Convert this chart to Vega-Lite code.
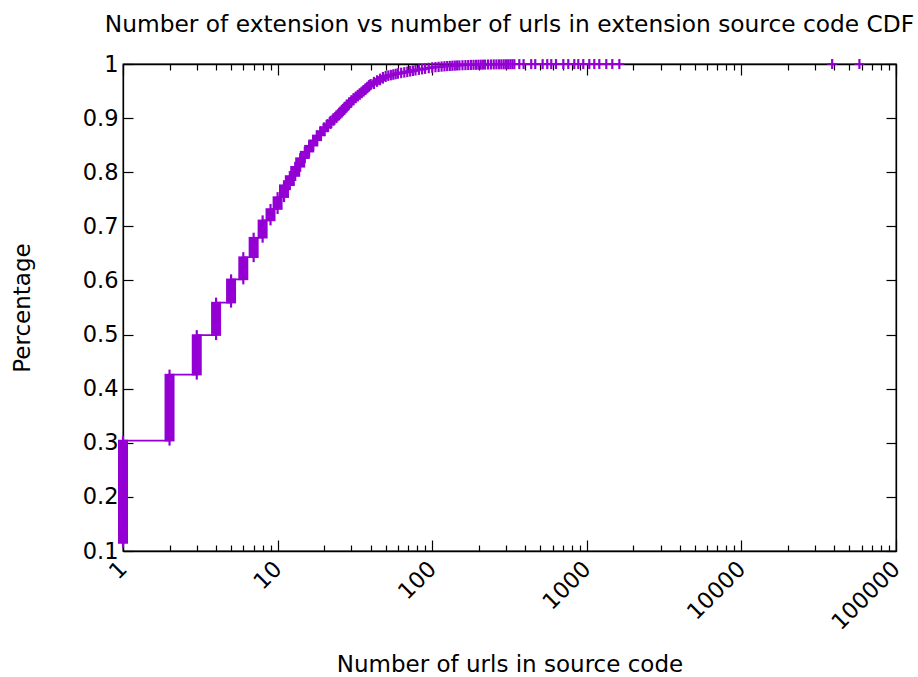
{
  "$schema": "https://vega.github.io/schema/vega-lite/v6.json",
  "width": 773,
  "height": 487,
  "autosize": {"type": "none"},
  "padding": {"left": 123, "top": 64, "right": 22, "bottom": 126},
  "background": "white",
  "config": {
    "font": "DejaVu Sans",
    "view": {"stroke": "#000", "strokeWidth": 1.3},
    "axis": {"grid": false, "zindex": 1, "domainColor": "#000", "domainWidth": 1.3, "tickColor": "#000", "tickWidth": 1.2, "labelColor": "#000", "labelFont": "DejaVu Sans", "labelFontSize": 22.5, "titleFont": "DejaVu Sans", "titleFontSize": 23, "titleFontWeight": "normal", "titleColor": "#000", "labelOverlap": false, "labelFlush": false, "labelBound": false}
  },
  "title": {"text": "Number of extension vs number of urls in extension source code CDF", "font": "DejaVu Sans", "fontSize": 23.3, "fontWeight": "normal", "color": "#000", "anchor": "middle", "baseline": "bottom", "offset": -7},
  "data": {"values": [
    {"n": 1, "lo": 0.115, "hi": 0.304},
    {"n": 2, "lo": 0.304, "hi": 0.426},
    {"n": 3, "lo": 0.426, "hi": 0.499},
    {"n": 4, "lo": 0.499, "hi": 0.559},
    {"n": 5, "lo": 0.559, "hi": 0.602},
    {"n": 6, "lo": 0.602, "hi": 0.643},
    {"n": 7, "lo": 0.643, "hi": 0.679},
    {"n": 8, "lo": 0.679, "hi": 0.711},
    {"n": 9, "lo": 0.711, "hi": 0.732},
    {"n": 10, "lo": 0.732, "hi": 0.754},
    {"n": 11, "lo": 0.754, "hi": 0.776},
    {"n": 12, "lo": 0.776, "hi": 0.793},
    {"n": 13, "lo": 0.793, "hi": 0.81},
    {"n": 14, "lo": 0.81, "hi": 0.826},
    {"n": 15, "lo": 0.826, "hi": 0.838},
    {"n": 16, "lo": 0.838, "hi": 0.849},
    {"n": 17, "lo": 0.849, "hi": 0.859},
    {"n": 18, "lo": 0.859, "hi": 0.868},
    {"n": 19, "lo": 0.868, "hi": 0.876},
    {"n": 20, "lo": 0.876, "hi": 0.883},
    {"n": 21, "lo": 0.883, "hi": 0.889},
    {"n": 22, "lo": 0.889, "hi": 0.895},
    {"n": 23, "lo": 0.895, "hi": 0.9},
    {"n": 24, "lo": 0.9, "hi": 0.905},
    {"n": 25, "lo": 0.905, "hi": 0.91},
    {"n": 26, "lo": 0.91, "hi": 0.915},
    {"n": 27, "lo": 0.915, "hi": 0.92},
    {"n": 28, "lo": 0.92, "hi": 0.925},
    {"n": 29, "lo": 0.925, "hi": 0.929},
    {"n": 30, "lo": 0.929, "hi": 0.933},
    {"n": 31, "lo": 0.933, "hi": 0.937},
    {"n": 32, "lo": 0.937, "hi": 0.94},
    {"n": 33, "lo": 0.94, "hi": 0.943},
    {"n": 34, "lo": 0.943, "hi": 0.946},
    {"n": 35, "lo": 0.946, "hi": 0.949},
    {"n": 36, "lo": 0.949, "hi": 0.952},
    {"n": 37, "lo": 0.952, "hi": 0.955},
    {"n": 38, "lo": 0.955, "hi": 0.958},
    {"n": 39, "lo": 0.958, "hi": 0.961},
    {"n": 40, "lo": 0.961, "hi": 0.963},
    {"n": 42, "lo": 0.963, "hi": 0.967},
    {"n": 44, "lo": 0.967, "hi": 0.97},
    {"n": 46, "lo": 0.97, "hi": 0.973},
    {"n": 48, "lo": 0.973, "hi": 0.976},
    {"n": 50, "lo": 0.976, "hi": 0.978},
    {"n": 52, "lo": 0.978, "hi": 0.979},
    {"n": 54, "lo": 0.979, "hi": 0.98},
    {"n": 56, "lo": 0.98, "hi": 0.981},
    {"n": 58, "lo": 0.981, "hi": 0.982},
    {"n": 60, "lo": 0.982, "hi": 0.983},
    {"n": 63, "lo": 0.983, "hi": 0.984},
    {"n": 66, "lo": 0.984, "hi": 0.985},
    {"n": 69, "lo": 0.985, "hi": 0.986},
    {"n": 72, "lo": 0.986, "hi": 0.987},
    {"n": 75, "lo": 0.987, "hi": 0.988},
    {"n": 78, "lo": 0.988, "hi": 0.989},
    {"n": 82, "lo": 0.989, "hi": 0.99},
    {"n": 86, "lo": 0.99, "hi": 0.991},
    {"n": 90, "lo": 0.991, "hi": 0.992},
    {"n": 95, "lo": 0.992, "hi": 0.993},
    {"n": 100, "lo": 0.993, "hi": 0.994},
    {"n": 105, "lo": 0.994, "hi": 0.9945},
    {"n": 110, "lo": 0.9945, "hi": 0.995},
    {"n": 115, "lo": 0.995, "hi": 0.9955},
    {"n": 120, "lo": 0.9955, "hi": 0.996},
    {"n": 125, "lo": 0.996, "hi": 0.9963},
    {"n": 130, "lo": 0.9963, "hi": 0.9966},
    {"n": 135, "lo": 0.9966, "hi": 0.9969},
    {"n": 140, "lo": 0.9969, "hi": 0.9972},
    {"n": 145, "lo": 0.9972, "hi": 0.9974},
    {"n": 150, "lo": 0.9974, "hi": 0.9976},
    {"n": 157, "lo": 0.9976, "hi": 0.9978},
    {"n": 164, "lo": 0.9978, "hi": 0.998},
    {"n": 171, "lo": 0.998, "hi": 0.9982},
    {"n": 178, "lo": 0.9982, "hi": 0.9984},
    {"n": 185, "lo": 0.9984, "hi": 0.9985},
    {"n": 192, "lo": 0.9985, "hi": 0.9986},
    {"n": 199, "lo": 0.9986, "hi": 0.9987},
    {"n": 206, "lo": 0.9987, "hi": 0.9988},
    {"n": 213, "lo": 0.9988, "hi": 0.9989},
    {"n": 220, "lo": 0.9989, "hi": 0.999},
    {"n": 230, "lo": 0.999, "hi": 0.9991},
    {"n": 240, "lo": 0.9991, "hi": 0.9992},
    {"n": 250, "lo": 0.9992, "hi": 0.9993},
    {"n": 260, "lo": 0.9993, "hi": 0.9993},
    {"n": 270, "lo": 0.9993, "hi": 0.9994},
    {"n": 280, "lo": 0.9994, "hi": 0.9994},
    {"n": 290, "lo": 0.9994, "hi": 0.9995},
    {"n": 300, "lo": 0.9995, "hi": 0.9995},
    {"n": 310, "lo": 0.9995, "hi": 0.9996},
    {"n": 320, "lo": 0.9996, "hi": 0.9996},
    {"n": 330, "lo": 0.9996, "hi": 0.9997},
    {"n": 340, "lo": 0.9997, "hi": 0.9997},
    {"n": 366, "lo": 0.9998, "hi": 0.9998},
    {"n": 390, "lo": 0.9998, "hi": 0.9998},
    {"n": 437, "lo": 0.9998, "hi": 0.9998},
    {"n": 464, "lo": 0.9998, "hi": 0.9998},
    {"n": 518, "lo": 0.9998, "hi": 0.9998},
    {"n": 555, "lo": 0.9998, "hi": 0.9998},
    {"n": 589, "lo": 0.9998, "hi": 0.9998},
    {"n": 632, "lo": 0.9999, "hi": 0.9999},
    {"n": 705, "lo": 0.9999, "hi": 0.9999},
    {"n": 759, "lo": 0.9999, "hi": 0.9999},
    {"n": 830, "lo": 0.9999, "hi": 0.9999},
    {"n": 881, "lo": 0.9999, "hi": 0.9999},
    {"n": 949, "lo": 0.9999, "hi": 0.9999},
    {"n": 1038, "lo": 0.9999, "hi": 0.9999},
    {"n": 1118, "lo": 0.9999, "hi": 0.9999},
    {"n": 1205, "lo": 0.9999, "hi": 0.9999},
    {"n": 1337, "lo": 0.9999, "hi": 0.9999},
    {"n": 1462, "lo": 0.9999, "hi": 0.9999},
    {"n": 1624, "lo": 0.9999, "hi": 0.9999},
    {"n": 38650, "lo": 1.0, "hi": 1.0},
    {"n": 58000, "lo": 1.0, "hi": 1.0}
  ]},
  "resolve": {"axis": {"x": "independent", "y": "independent"}},
  "layer": [
    {
      "transform": [{"filter": "datum.n <= 340"}],
      "mark": {"type": "line", "interpolate": "step-after", "color": "#9400d3", "strokeWidth": 1.6},
      "encoding": {
        "x": {"field": "n", "type": "quantitative", "scale": {"type": "log", "domain": [1, 100000]},
          "axis": {"orient": "bottom", "title": "Number of urls in source code", "titlePadding": 20,
            "values": [1,2,3,4,5,6,7,8,9,10,20,30,40,50,60,70,80,90,100,200,300,400,500,600,700,800,900,1000,2000,3000,4000,5000,6000,7000,8000,9000,10000,20000,30000,40000,50000,60000,70000,80000,90000,100000],
            "labelExpr": "indexof([1,10,100,1000,10000,100000], datum.value) >= 0 ? '' + datum.value : ''",
            "tickSize": {"condition": {"test": "indexof([1,10,100,1000,10000,100000], datum.value) >= 0", "value": -11}, "value": -6},
            "labelAngle": -45, "labelAlign": "right", "labelBaseline": "middle", "labelPadding": 25}},
        "y": {"field": "hi", "type": "quantitative", "scale": {"domain": [0.1, 1]},
          "axis": {"orient": "left", "title": "Percentage", "titlePadding": 48,
            "values": [0.1,0.2,0.3,0.4,0.5,0.6,0.7,0.8,0.9,1],
            "labelExpr": "datum.value == 1 ? '1' : format(datum.value, '.1f')",
            "tickSize": -10, "labelPadding": 15}}
      }
    },
    {
      "mark": {"type": "rule", "color": "#9400d3", "strokeWidth": 10, "strokeCap": "butt", "yOffset": -0.8, "y2Offset": 0.8},
      "encoding": {
        "x": {"field": "n", "type": "quantitative",
          "axis": {"orient": "top", "title": null, "labels": false,
            "values": [1,2,3,4,5,6,7,8,9,10,20,30,40,50,60,70,80,90,100,200,300,400,500,600,700,800,900,1000,2000,3000,4000,5000,6000,7000,8000,9000,10000,20000,30000,40000,50000,60000,70000,80000,90000,100000],
            "tickSize": {"condition": {"test": "indexof([1,10,100,1000,10000,100000], datum.value) >= 0", "value": -11}, "value": -6}}},
        "y": {"field": "hi", "type": "quantitative",
          "axis": {"orient": "right", "title": null, "labels": false,
            "values": [0.1,0.2,0.3,0.4,0.5,0.6,0.7,0.8,0.9,1], "tickSize": -10}},
        "y2": {"field": "lo"}
      }
    },
    {
      "mark": {"type": "rule", "color": "#9400d3", "strokeWidth": 2.2, "yOffset": -5, "y2Offset": 5},
      "encoding": {
        "x": {"field": "n", "type": "quantitative", "axis": null},
        "y": {"field": "hi", "type": "quantitative", "axis": null},
        "y2": {"field": "lo"}
      }
    }
  ]
}
